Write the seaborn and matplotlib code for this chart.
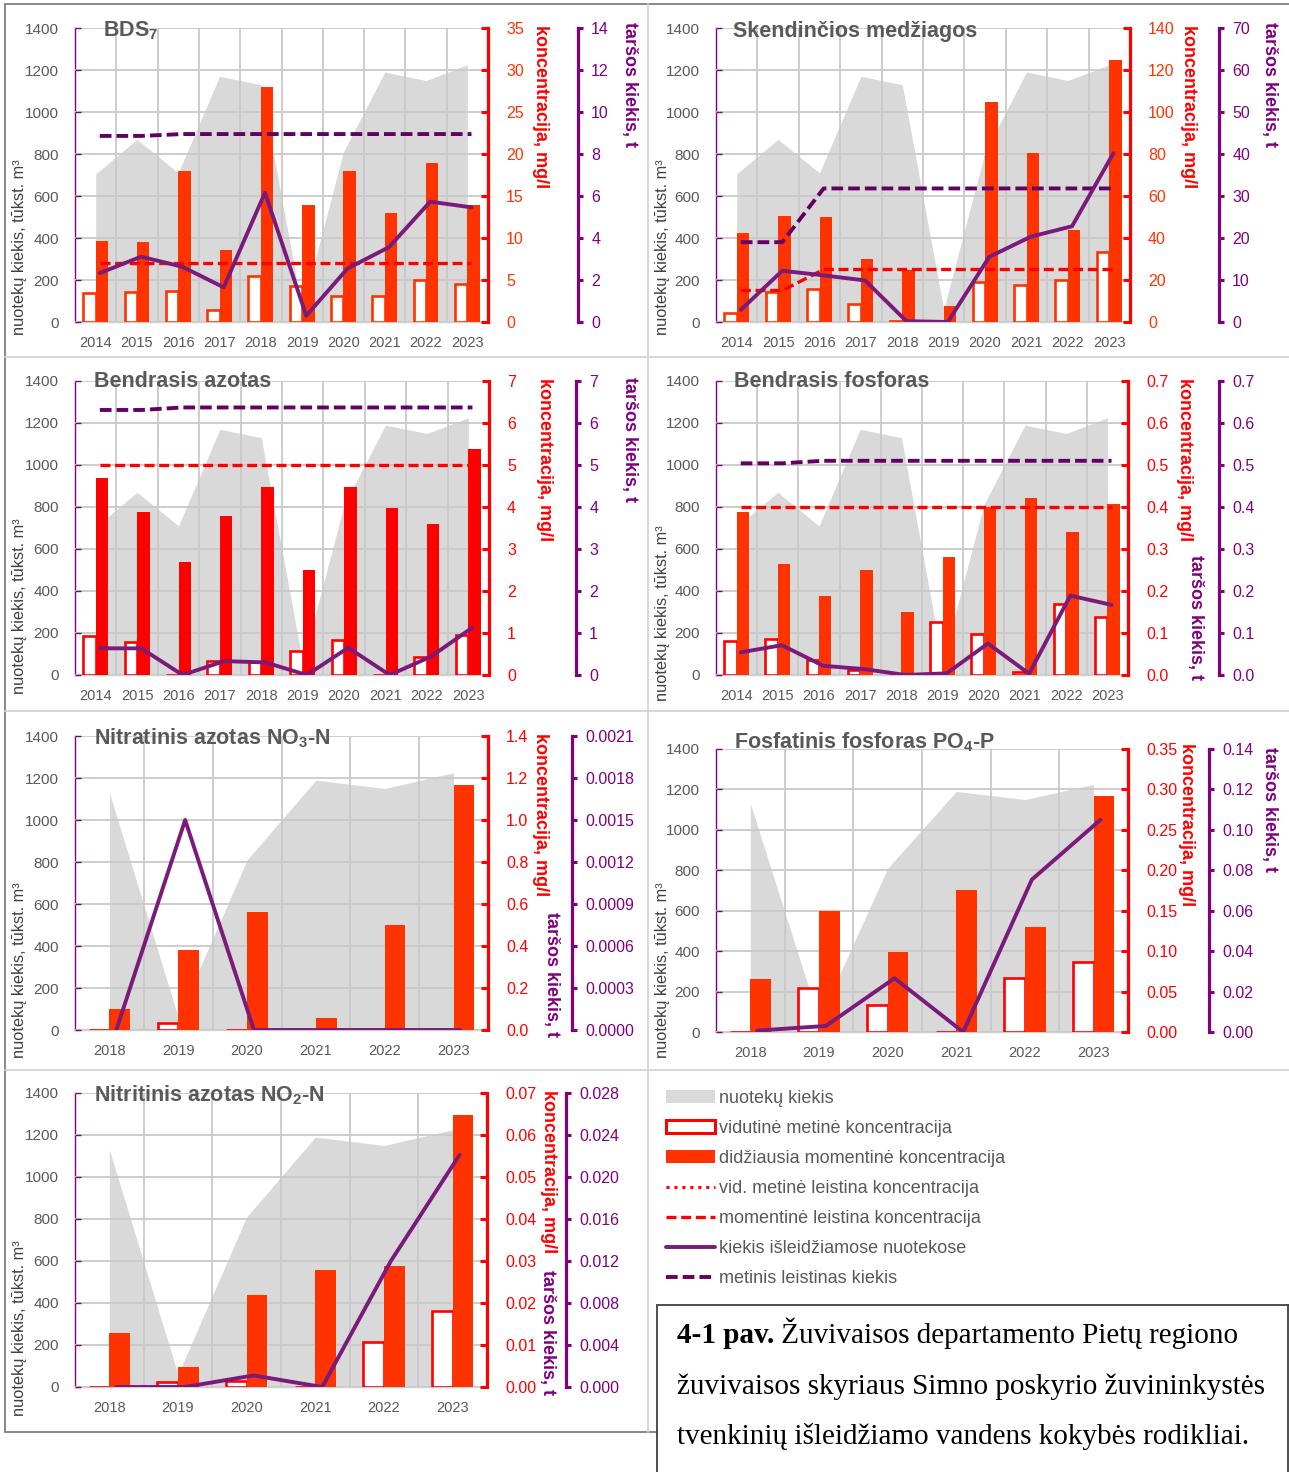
import numpy as np
import pandas as pd
import matplotlib
matplotlib.use("Agg")
import matplotlib.pyplot as plt
from matplotlib import font_manager
from matplotlib.lines import Line2D
from matplotlib.patches import Patch
from matplotlib.ticker import FormatStrFormatter
import seaborn as sns

# ---------------------------------------------------------------- data
years_long = ["2014", "2015", "2016", "2017", "2018", "2019", "2020", "2021", "2022", "2023"]
years_short = ["2018", "2019", "2020", "2021", "2022", "2023"]

# discharged water volume, thousand m3
volume_long = [705, 870, 710, 1170, 1130, 60, 810, 1190, 1150, 1225]
volume_short = [1130, 60, 810, 1190, 1150, 1225]

# BDS7
bds_avg = [3.4, 3.6, 3.75, 1.4, 5.5, 4.25, 3.1, 3.1, 5.0, 4.5]
bds_max = [9.6, 9.5, 18.0, 8.6, 28.0, 13.9, 18.0, 13.0, 18.9, 13.9]
bds_conc_limit = [7, 7, 7, 7, 7, 7, 7, 7, 7, 7]
bds_load = [2.33, 3.11, 2.63, 1.65, 6.16, 0.3, 2.55, 3.56, 5.73, 5.46]
bds_load_limit = [8.86, 8.86, 8.95, 8.95, 8.95, 8.95, 8.95, 8.95, 8.95, 8.95]

# suspended solids
ss_avg = [4.5, 14.3, 15.9, 8.75, 0.5, 0.3, 19.1, 17.5, 20.2, 33.1]
ss_max = [42.2, 50.6, 49.8, 30.2, 25.0, 7.6, 105.0, 80.7, 43.8, 124.9]
ss_conc_limit = [15, 15, 25, 25, 25, 25, 25, 25, 25, 25]
ss_load = [2.9, 12.2, 11.1, 9.9, 0.2, 0.0, 15.5, 20.3, 22.8, 40.2]
ss_load_limit = [19.0, 19.0, 31.8, 31.8, 31.8, 31.8, 31.8, 31.8, 31.8, 31.8]

# total nitrogen
tn_avg = [0.94, 0.78, 0.0, 0.33, 0.32, 0.56, 0.83, 0.0, 0.44, 0.95]
tn_max = [4.7, 3.89, 2.7, 3.79, 4.48, 2.49, 4.48, 3.98, 3.59, 5.38]
tn_conc_limit = [5, 5, 5, 5, 5, 5, 5, 5, 5, 5]
tn_load = [0.635, 0.635, 0.0, 0.33, 0.30, 0.0, 0.65, 0.0, 0.44, 1.13]
tn_load_limit = [6.31, 6.31, 6.37, 6.37, 6.37, 6.37, 6.37, 6.37, 6.37, 6.37]

# total phosphorus
tp_avg = [0.081, 0.085, 0.035, 0.012, 0.0, 0.127, 0.097, 0.008, 0.168, 0.139]
tp_max = [0.389, 0.264, 0.189, 0.249, 0.149, 0.28, 0.40, 0.422, 0.34, 0.406]
tp_conc_limit = [0.4, 0.4, 0.4, 0.4, 0.4, 0.4, 0.4, 0.4, 0.4, 0.4]
tp_load = [0.054, 0.071, 0.022, 0.014, 0.0, 0.004, 0.075, 0.003, 0.189, 0.167]
tp_load_limit = [0.504, 0.504, 0.51, 0.51, 0.51, 0.51, 0.51, 0.51, 0.51, 0.51]

# nitrate nitrogen NO3-N
no3_avg = [0.0, 0.035, 0.0, 0.0, 0.0, 0.0]
no3_max = [0.098, 0.381, 0.562, 0.059, 0.498, 1.168]
no3_load = [0.0, 0.0015, 0.0, 0.0, 0.0, 0.0]

# phosphate phosphorus PO4-P
po4_avg = [0.0, 0.055, 0.033, 0.0, 0.067, 0.087]
po4_max = [0.066, 0.15, 0.099, 0.176, 0.13, 0.292]
po4_load = [0.0007, 0.003, 0.0266, 0.0, 0.0754, 0.105]

# nitrite nitrogen NO2-N
no2_avg = [0.0, 0.0011, 0.0015, 0.0, 0.0107, 0.0182]
no2_max = [0.0129, 0.0048, 0.022, 0.0279, 0.0288, 0.0648]
no2_load = [0.0, 0.0, 0.0011, 0.0, 0.012, 0.0221]

legend_labels = [
    "nuotekų kiekis",
    "vidutinė metinė koncentracija",
    "didžiausia momentinė koncentracija",
    "vid. metinė leistina koncentracija",
    "momentinė leistina koncentracija",
    "kiekis išleidžiamose nuotekose",
    "metinis leistinas kiekis",
]

# ---------------------------------------------------------------- style
W, H = 1289, 1472
NARROW = "Liberation Sans Narrow"
try:
    font_manager.findfont(font_manager.FontProperties(family=NARROW), fallback_to_default=False)
except ValueError:
    NARROW = "Liberation Sans"
SERIF = "Liberation Serif"

sns.set_style("white")
plt.rcParams["font.family"] = [NARROW, "DejaVu Sans"]
plt.rcParams["mathtext.fontset"] = "custom"
plt.rcParams["mathtext.rm"] = NARROW
plt.rcParams["mathtext.bf"] = NARROW + ":bold"

AREA = "#d9d9d9"
GRID = "#c9c9c9"
ORANGE = "#ff3300"
RED = "#ff0000"
PURPLE = "#7a1a7a"
PURPLE_AX = "#800080"
PURPLE_DASH = "#640064"
GREY_TXT = "#595959"
LABEL_TXT = "#404040"
PT = 72.0 / 100.0  # points per pixel at dpi 100

TICK_FS = 11
CONC_FS = 11.5
YEAR_FS = 10.5
TITLE_FS = 15.5
AXLAB_FS = 13

panels = [
    dict(title=r"BDS$_\mathbf{7}$", years=years_long, volume=volume_long,
         avg=bds_avg, mx=bds_max, conc_limit=bds_conc_limit, load=bds_load, load_limit=bds_load_limit,
         cmax=35, cfmt="%d", lmax=14, lfmt="%d", box=(75, 488, 578, 28, 322),
         fill=ORANGE, edge=ORANGE, ctick=ORANGE,
         title_xy=(103, 19), red_lab=(541, 25), pur_lab=(630, 22), vol_lab=(20, 247)),
    dict(title="Skendinčios medžiagos", years=years_long, volume=volume_long,
         avg=ss_avg, mx=ss_max, conc_limit=ss_conc_limit, load=ss_load, load_limit=ss_load_limit,
         cmax=140, cfmt="%d", lmax=70, lfmt="%d", box=(716, 1130, 1219, 28, 322),
         fill=ORANGE, edge=ORANGE, ctick=ORANGE,
         title_xy=(733, 21), red_lab=(1188, 25), pur_lab=(1270, 22), vol_lab=(662, 247)),
    dict(title="Bendrasis azotas", years=years_long, volume=volume_long,
         avg=tn_avg, mx=tn_max, conc_limit=tn_conc_limit, load=tn_load, load_limit=tn_load_limit,
         cmax=7, cfmt="%d", lmax=7, lfmt="%d", box=(75, 489, 576, 381, 675),
         fill=RED, edge=RED, ctick=RED,
         title_xy=(94, 371), red_lab=(545, 378), pur_lab=(630, 377), vol_lab=(20, 606)),
    dict(title="Bendrasis fosforas", years=years_long, volume=volume_long,
         avg=tp_avg, mx=tp_max, conc_limit=tp_conc_limit, load=tp_load, load_limit=tp_load_limit,
         cmax=0.7, cfmt="%.1f", lmax=0.7, lfmt="%.1f", box=(716, 1128, 1219, 381, 675),
         fill=ORANGE, edge=RED, ctick=RED,
         title_xy=(734, 371), red_lab=(1185, 378), pur_lab=(1195, 555), vol_lab=(662, 613)),
    dict(title=r"Nitratinis azotas NO$_\mathbf{3}$-N", years=years_short, volume=volume_short,
         avg=no3_avg, mx=no3_max, conc_limit=None, load=no3_load, load_limit=None,
         cmax=1.4, cfmt="%.1f", lmax=0.0021, lfmt="%.4f", box=(75, 488, 572, 736, 1030),
         fill=ORANGE, edge=RED, ctick=RED,
         title_xy=(94, 726), red_lab=(540, 733), pur_lab=(551, 912), vol_lab=(20, 970)),
    dict(title=r"Fosfatinis fosforas PO$_\mathbf{4}$-P", years=years_short, volume=volume_short,
         avg=po4_avg, mx=po4_max, conc_limit=None, load=po4_load, load_limit=None,
         cmax=0.35, cfmt="%.2f", lmax=0.14, lfmt="%.2f", box=(716, 1128, 1209, 749, 1032),
         fill=ORANGE, edge=RED, ctick=RED,
         title_xy=(734, 730), red_lab=(1186, 743), pur_lab=(1270, 747), vol_lab=(662, 970)),
    dict(title=r"Nitritinis azotas NO$_\mathbf{2}$-N", years=years_short, volume=volume_short,
         avg=no2_avg, mx=no2_max, conc_limit=None, load=no2_load, load_limit=None,
         cmax=0.07, cfmt="%.2f", lmax=0.028, lfmt="%.3f", box=(75, 487, 566, 1093, 1387),
         fill=ORANGE, edge=RED, ctick=RED,
         title_xy=(94, 1083), red_lab=(548, 1090), pur_lab=(548, 1270), vol_lab=(20, 1328)),
]

fig = plt.figure(figsize=(W / 100, H / 100), dpi=100)
fig.patch.set_facecolor("white")


def fx(x):
    return x / W


def fy(y):
    return 1 - y / H


def draw_panel(p):
    L, R, P, T, B = p["box"]
    n = len(p["years"])
    pos = np.arange(n)
    line_x = pos + 0.1

    # volume (left axis) ------------------------------------------------
    ax = fig.add_axes([fx(L), fy(B), (R - L) / W, (B - T) / H])
    ax.set_facecolor("none")
    ax.fill_between(pos, p["volume"], color=AREA, lw=0, zorder=1)
    ax.set_ylim(0, 1400)
    ax.set_yticks(np.arange(0, 1401, 200))
    ax.set_axisbelow(False)
    ax.yaxis.grid(True, color=GRID, lw=1.3)
    ax.set_xticks(pos + 0.5, minor=True)
    ax.xaxis.grid(True, which="minor", color=GRID, lw=1.3)
    ax.tick_params(axis="y", direction="in", length=4, width=1, color=PURPLE_AX,
                   pad=11.5, labelsize=TICK_FS, labelcolor=GREY_TXT)
    ax.tick_params(axis="x", which="both", length=0, pad=10, labelsize=YEAR_FS, labelcolor=GREY_TXT)
    for s in ("top", "right"):
        ax.spines[s].set_visible(False)
    ax.spines["left"].set_color(PURPLE_AX)
    ax.spines["left"].set_linewidth(1.0)
    ax.spines["bottom"].set_color("#d0d0d0")
    ax.spines["bottom"].set_linewidth(1.0)

    # concentrations (red axis) -----------------------------------------
    axc = ax.twinx()
    df = pd.DataFrame({
        "pos": np.concatenate([pos, pos]),
        "val": list(p["avg"]) + list(p["mx"]),
        "kind": ["avg"] * n + ["max"] * n,
    })
    sns.barplot(data=df, x="pos", y="val", hue="kind", hue_order=["avg", "max"],
                palette={"avg": "#ffffff", "max": p["fill"]}, native_scale=True,
                width=0.6, saturation=1, errorbar=None, legend=False, ax=axc, linewidth=0)
    for patch in axc.patches:
        fc = patch.get_facecolor()
        if fc[0] > 0.99 and fc[1] > 0.99 and fc[2] > 0.99:
            patch.set_edgecolor(p["edge"])
            patch.set_linewidth(1.9)
    if p["conc_limit"] is not None:
        sns.lineplot(x=line_x, y=p["conc_limit"], ax=axc, color=RED, lw=2.4,
                     linestyle=(0, (3, 1.4)), legend=False)
    axc.set_ylim(0, p["cmax"])
    axc.set_yticks(np.linspace(0, p["cmax"], 8))
    axc.yaxis.set_major_formatter(FormatStrFormatter(p["cfmt"]))
    axc.tick_params(axis="y", direction="in", length=5, width=2.2, color=RED,
                    pad=13, labelsize=CONC_FS, labelcolor=p["ctick"])
    for s in ("top", "left", "bottom"):
        axc.spines[s].set_visible(False)
    axc.spines["right"].set_color(RED)
    axc.spines["right"].set_linewidth(2.3)
    axc.set_xlabel("")
    axc.set_ylabel("")

    # pollutant load (purple axis) --------------------------------------
    axp = ax.twinx()
    if p["load_limit"] is not None:
        sns.lineplot(x=line_x, y=p["load_limit"], ax=axp, color=PURPLE_DASH, lw=2.8,
                     linestyle=(0, (3, 1.3)), legend=False)
    sns.lineplot(x=line_x, y=p["load"], ax=axp, color=PURPLE, lw=2.8, legend=False)
    axp.set_ylim(0, p["lmax"])
    axp.set_yticks(np.linspace(0, p["lmax"], 8))
    axp.yaxis.set_major_formatter(FormatStrFormatter(p["lfmt"]))
    axp.spines["right"].set_position(("outward", (P - R) * PT))
    axp.tick_params(axis="y", direction="out", length=3.5, width=2.2, color=PURPLE_AX,
                    pad=6, labelsize=CONC_FS, labelcolor=PURPLE_AX)
    for s in ("top", "left", "bottom"):
        axp.spines[s].set_visible(False)
    axp.spines["right"].set_color(PURPLE_AX)
    axp.spines["right"].set_linewidth(2.3)
    axp.set_xlabel("")
    axp.set_ylabel("")

    ax.set_xlim(-0.5, n - 0.5)
    ax.set_xticks(pos)
    ax.set_xticklabels(p["years"])
    ax.set_xlabel("")
    ax.set_ylabel("")

    # texts ---------------------------------------------------------------
    tx, ty = p["title_xy"]
    fig.text(fx(tx), fy(ty), p["title"], fontsize=TITLE_FS, fontweight="bold", color=GREY_TXT,
             ha="left", va="top")
    rx, ry = p["red_lab"]
    fig.text(fx(rx), fy(ry), "koncentracija, mg/l", fontsize=AXLAB_FS, fontweight="bold", color=RED,
             rotation=-90, ha="center", va="top")
    qx, qy = p["pur_lab"]
    fig.text(fx(qx), fy(qy), "taršos kiekis, t", fontsize=AXLAB_FS, fontweight="bold", color=PURPLE_AX,
             rotation=-90, ha="center", va="top")
    vx, vy = p["vol_lab"]
    fig.text(fx(vx), fy(vy), "nuotekų kiekis, tūkst. m³", fontsize=11.8, color=LABEL_TXT,
             rotation=90, ha="center", va="center")


for panel in panels:
    draw_panel(panel)

# ---------------------------------------------------------------- legend
handles = [
    Patch(facecolor=AREA, edgecolor="none"),
    Patch(facecolor="white", edgecolor=RED, linewidth=2.2),
    Patch(facecolor=ORANGE, edgecolor="none"),
    Line2D([], [], color=RED, lw=2.2, linestyle=(0, (1, 1.6))),
    Line2D([], [], color=RED, lw=2.4, linestyle=(0, (3, 1.4))),
    Line2D([], [], color=PURPLE, lw=2.8),
    Line2D([], [], color=PURPLE_DASH, lw=2.8, linestyle=(0, (3, 1.3))),
]
fig.legend(handles, legend_labels, loc="upper left", bbox_to_anchor=(fx(666), fy(1090)),
           frameon=False, fontsize=13, labelcolor=GREY_TXT, handlelength=2.7, handleheight=0.75,
           handletextpad=0.25, labelspacing=0.72, borderpad=0, borderaxespad=0)

# ---------------------------------------------------------------- frames
def hline(y, x0, x1, color, lw=1.3):
    fig.add_artist(Line2D([fx(x0), fx(x1)], [fy(y), fy(y)], color=color, lw=lw))


def vline(x, y0, y1, color, lw=1.3):
    fig.add_artist(Line2D([fx(x), fx(x)], [fy(y0), fy(y1)], color=color, lw=lw))


DARK = "#7f7f7f"
LIGHT = "#d4d4d4"
vline(5, 4, 1432, DARK)
hline(4, 5, 1289, DARK)
hline(1432, 5, 657, DARK)
hline(357, 5, 1289, LIGHT)
hline(711, 5, 1289, LIGHT)
hline(1070, 5, 1289, LIGHT)
vline(648, 4, 1432, LIGHT)

# caption box
vline(657, 1305, 1472, "#404040")
hline(1305, 657, 1289, "#404040")
vline(1288, 1305, 1472, "#404040")

CAP = 21
renderer = fig.canvas.get_renderer()
t_bold = fig.text(fx(677), fy(1343), "4-1 pav.", family=SERIF, fontweight="bold",
                  fontsize=CAP, color="black", ha="left", va="baseline")
bb = t_bold.get_window_extent(renderer)
fig.text(bb.x1 / W, fy(1343), " Žuvivaisos departamento Pietų regiono", family=SERIF,
         fontsize=CAP, color="black", ha="left", va="baseline")
fig.text(fx(677), fy(1394), "žuvivaisos skyriaus Simno poskyrio žuvininkystės", family=SERIF,
         fontsize=CAP, color="black", ha="left", va="baseline")
fig.text(fx(677), fy(1444), "tvenkinių išleidžiamo vandens kokybės rodikliai.", family=SERIF,
         fontsize=CAP, color="black", ha="left", va="baseline")

fig.savefig("out.png", dpi=100, facecolor="white")
